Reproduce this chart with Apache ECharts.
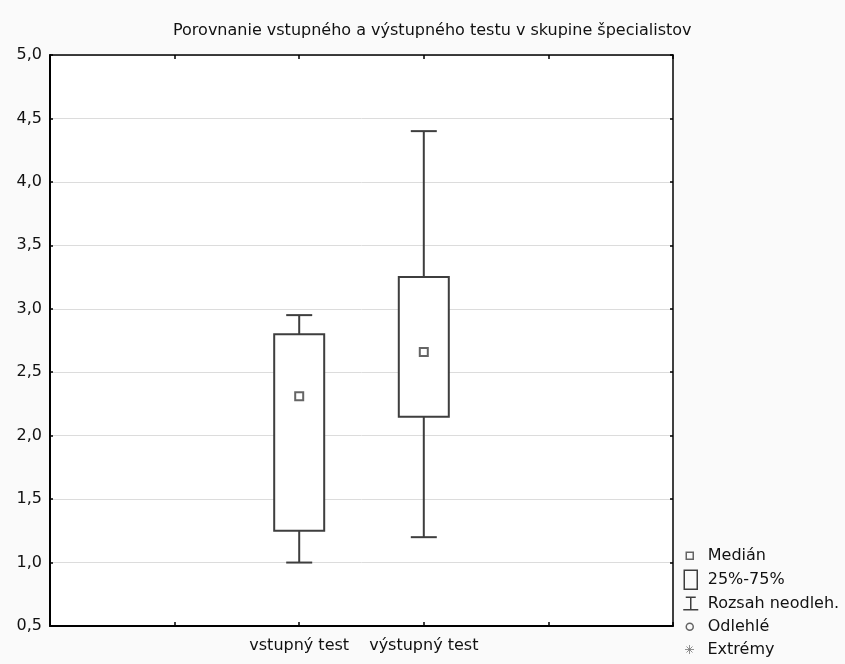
<!DOCTYPE html>
<html>
<head>
<meta charset="utf-8">
<script src="https://cdn.jsdelivr.net/npm/echarts@6/dist/echarts.min.js"></script>
<style>
  html, body { margin: 0; padding: 0; background: #fff; }
  #chart { width: 845px; height: 664px; }
</style>
</head>
<body>
<div id="chart"></div>
<script>
// ---- data ----
const titleText = 'Porovnanie vstupného a výstupného testu v skupine špecialistov';
const categories = ['vstupný test', 'výstupný test'];
const medians = [2.31, 2.66];
const quartile1 = [1.25, 2.15];
const quartile3 = [2.80, 3.25];
const whiskerMin = [1.00, 1.20];
const whiskerMax = [2.95, 4.40];
const yMin = 0.5;
const yMax = 5.0;
const yStep = 0.5;
const legendNames = ['Medián', '25%-75%', 'Rozsah neodleh.', 'Odlehlé', 'Extrémy'];

// category slots along x: two empty slots on each side of the two tests
const leadSlots = 2;
const xSlots = ['', ''].concat(categories, ['', '']);

const FONT = 'DejaVu Sans';
const INK = '#3e3e3e';
const LW = 2;

const boxData = categories.map((c, i) => [i + leadSlots, quartile1[i], quartile3[i]]);
const whiskerData = categories.map((c, i) => [i + leadSlots, whiskerMin[i], whiskerMax[i]]);
const medianData = categories.map((c, i) => [i + leadSlots, medians[i]]);

function renderBox(params, api) {
  const x = api.value(0);
  const lo = api.coord([x, api.value(1)]);
  const hi = api.coord([x, api.value(2)]);
  const w = 50;
  return {
    type: 'rect',
    shape: { x: lo[0] - w / 2, y: hi[1], width: w, height: lo[1] - hi[1] },
    style: { fill: '#fff', stroke: INK, lineWidth: LW }
  };
}

function renderWhisker(params, api) {
  const x = api.value(0);
  const lo = api.coord([x, api.value(1)]);
  const hi = api.coord([x, api.value(2)]);
  const cap = 13;
  const st = { stroke: INK, lineWidth: LW };
  return {
    type: 'group',
    children: [
      { type: 'line', shape: { x1: lo[0], y1: lo[1], x2: hi[0], y2: hi[1] }, style: st },
      { type: 'line', shape: { x1: lo[0] - cap, y1: lo[1], x2: lo[0] + cap, y2: lo[1] }, style: st },
      { type: 'line', shape: { x1: hi[0] - cap, y1: hi[1], x2: hi[0] + cap, y2: hi[1] }, style: st }
    ]
  };
}

// legend icons drawn in a 26x20 frame (corner moveTo points keep scale 1)
const FRAME = 'M0,0 M26,20 ';
const legendIcons = [
  'path://' + FRAME + 'M9.5,6.5 L16.5,6.5 L16.5,13.5 L9.5,13.5 Z',
  'path://' + FRAME + 'M7.5,0.5 L20.5,0.5 L20.5,19.5 L7.5,19.5 Z',
  'path://' + FRAME + 'M9,3.5 L19,3.5 M14,3.5 L14,16 M6.5,16 L21.5,16',
  'path://' + FRAME + 'M16.5,10 A3.5,3.5 0 1 1 9.5,10 A3.5,3.5 0 1 1 16.5,10 Z',
  'path://' + FRAME + 'M13,5.5 L13,14.5 M8.5,10 L17.5,10 M10,7 L16,13 M16,7 L10,13'
];
const legendTops = [545, 569, 593, 616, 639];
const legendStroke = [INK, INK, INK, INK, '#777'];
const legendWidth = [1.5, 1.5, 1.5, 1.5, 1];

const legends = legendNames.map((name, i) => ({
  data: [{ name: name, icon: legendIcons[i] }],
  left: 676,
  top: legendTops[i],
  orient: 'vertical',
  padding: 0,
  itemWidth: 26,
  itemHeight: 20,
  selectedMode: false,
  itemStyle: { color: 'transparent', borderColor: legendStroke[i], borderWidth: legendWidth[i] },
  textStyle: { fontFamily: FONT, fontSize: 16, color: '#111', lineHeight: 20 }
}));

const chart = echarts.init(document.getElementById('chart'), null, { renderer: 'canvas' });
chart.setOption({
  backgroundColor: '#fafafa',
  animation: false,
  textStyle: { fontFamily: FONT },
  title: {
    text: titleText,
    left: 173,
    top: 23,
    padding: 0,
    textStyle: { fontFamily: FONT, fontSize: 16, fontWeight: 'normal', color: '#111' }
  },
  legend: legends,
  grid: {
    left: 50, right: 172, top: 55, bottom: 38,
    show: true, backgroundColor: '#fff', borderWidth: 0
  },
  xAxis: [
    {
      type: 'category', data: xSlots, boundaryGap: false, position: 'bottom',
      axisLine: { lineStyle: { color: '#000', width: 2 } },
      axisTick: { inside: true, length: 4, lineStyle: { color: '#000', width: 1.5 } },
      axisLabel: { interval: 0, margin: 12, fontFamily: FONT, fontSize: 16, color: '#111' },
      splitLine: { show: false }
    },
    {
      type: 'category', data: xSlots, boundaryGap: false, position: 'top',
      axisLine: { lineStyle: { color: '#000', width: 1.5 } },
      axisTick: { inside: true, length: 4, lineStyle: { color: '#000', width: 1.5 } },
      axisLabel: { show: false },
      splitLine: { show: false }
    }
  ],
  yAxis: [
    {
      type: 'value', min: yMin, max: yMax, interval: yStep, position: 'left',
      axisLine: { show: true, lineStyle: { color: '#000', width: 2 } },
      axisTick: { show: true, inside: true, length: 3, lineStyle: { color: '#000', width: 1.5 } },
      axisLabel: {
        margin: 8, fontFamily: FONT, fontSize: 16, color: '#111',
        formatter: v => v.toFixed(1).replace('.', ',')
      },
      splitLine: { show: true, lineStyle: { color: '#dcdcdc', width: 1 } }
    },
    {
      type: 'value', min: yMin, max: yMax, interval: yStep, position: 'right',
      axisLine: { show: true, lineStyle: { color: '#000', width: 1.5 } },
      axisTick: { show: true, inside: true, length: 3, lineStyle: { color: '#000', width: 1.5 } },
      axisLabel: { show: false },
      splitLine: { show: false }
    }
  ],
  series: [
    {
      name: 'Rozsah neodleh.', type: 'custom', z: 2,
      xAxisIndex: 0, yAxisIndex: 0,
      renderItem: renderWhisker, data: whiskerData,
      encode: { x: 0, y: [1, 2] }
    },
    {
      name: '25%-75%', type: 'custom', z: 3,
      xAxisIndex: 0, yAxisIndex: 0,
      renderItem: renderBox, data: boxData,
      encode: { x: 0, y: [1, 2] }
    },
    {
      name: 'Medián', type: 'scatter', z: 4,
      xAxisIndex: 0, yAxisIndex: 0,
      symbol: 'rect', symbolSize: 8,
      itemStyle: { color: '#fff', borderColor: INK, borderWidth: LW },
      data: medianData
    },
    { name: 'Odlehlé', type: 'scatter', data: [] },
    { name: 'Extrémy', type: 'scatter', data: [] }
  ]
});
</script>
</body>
</html>
